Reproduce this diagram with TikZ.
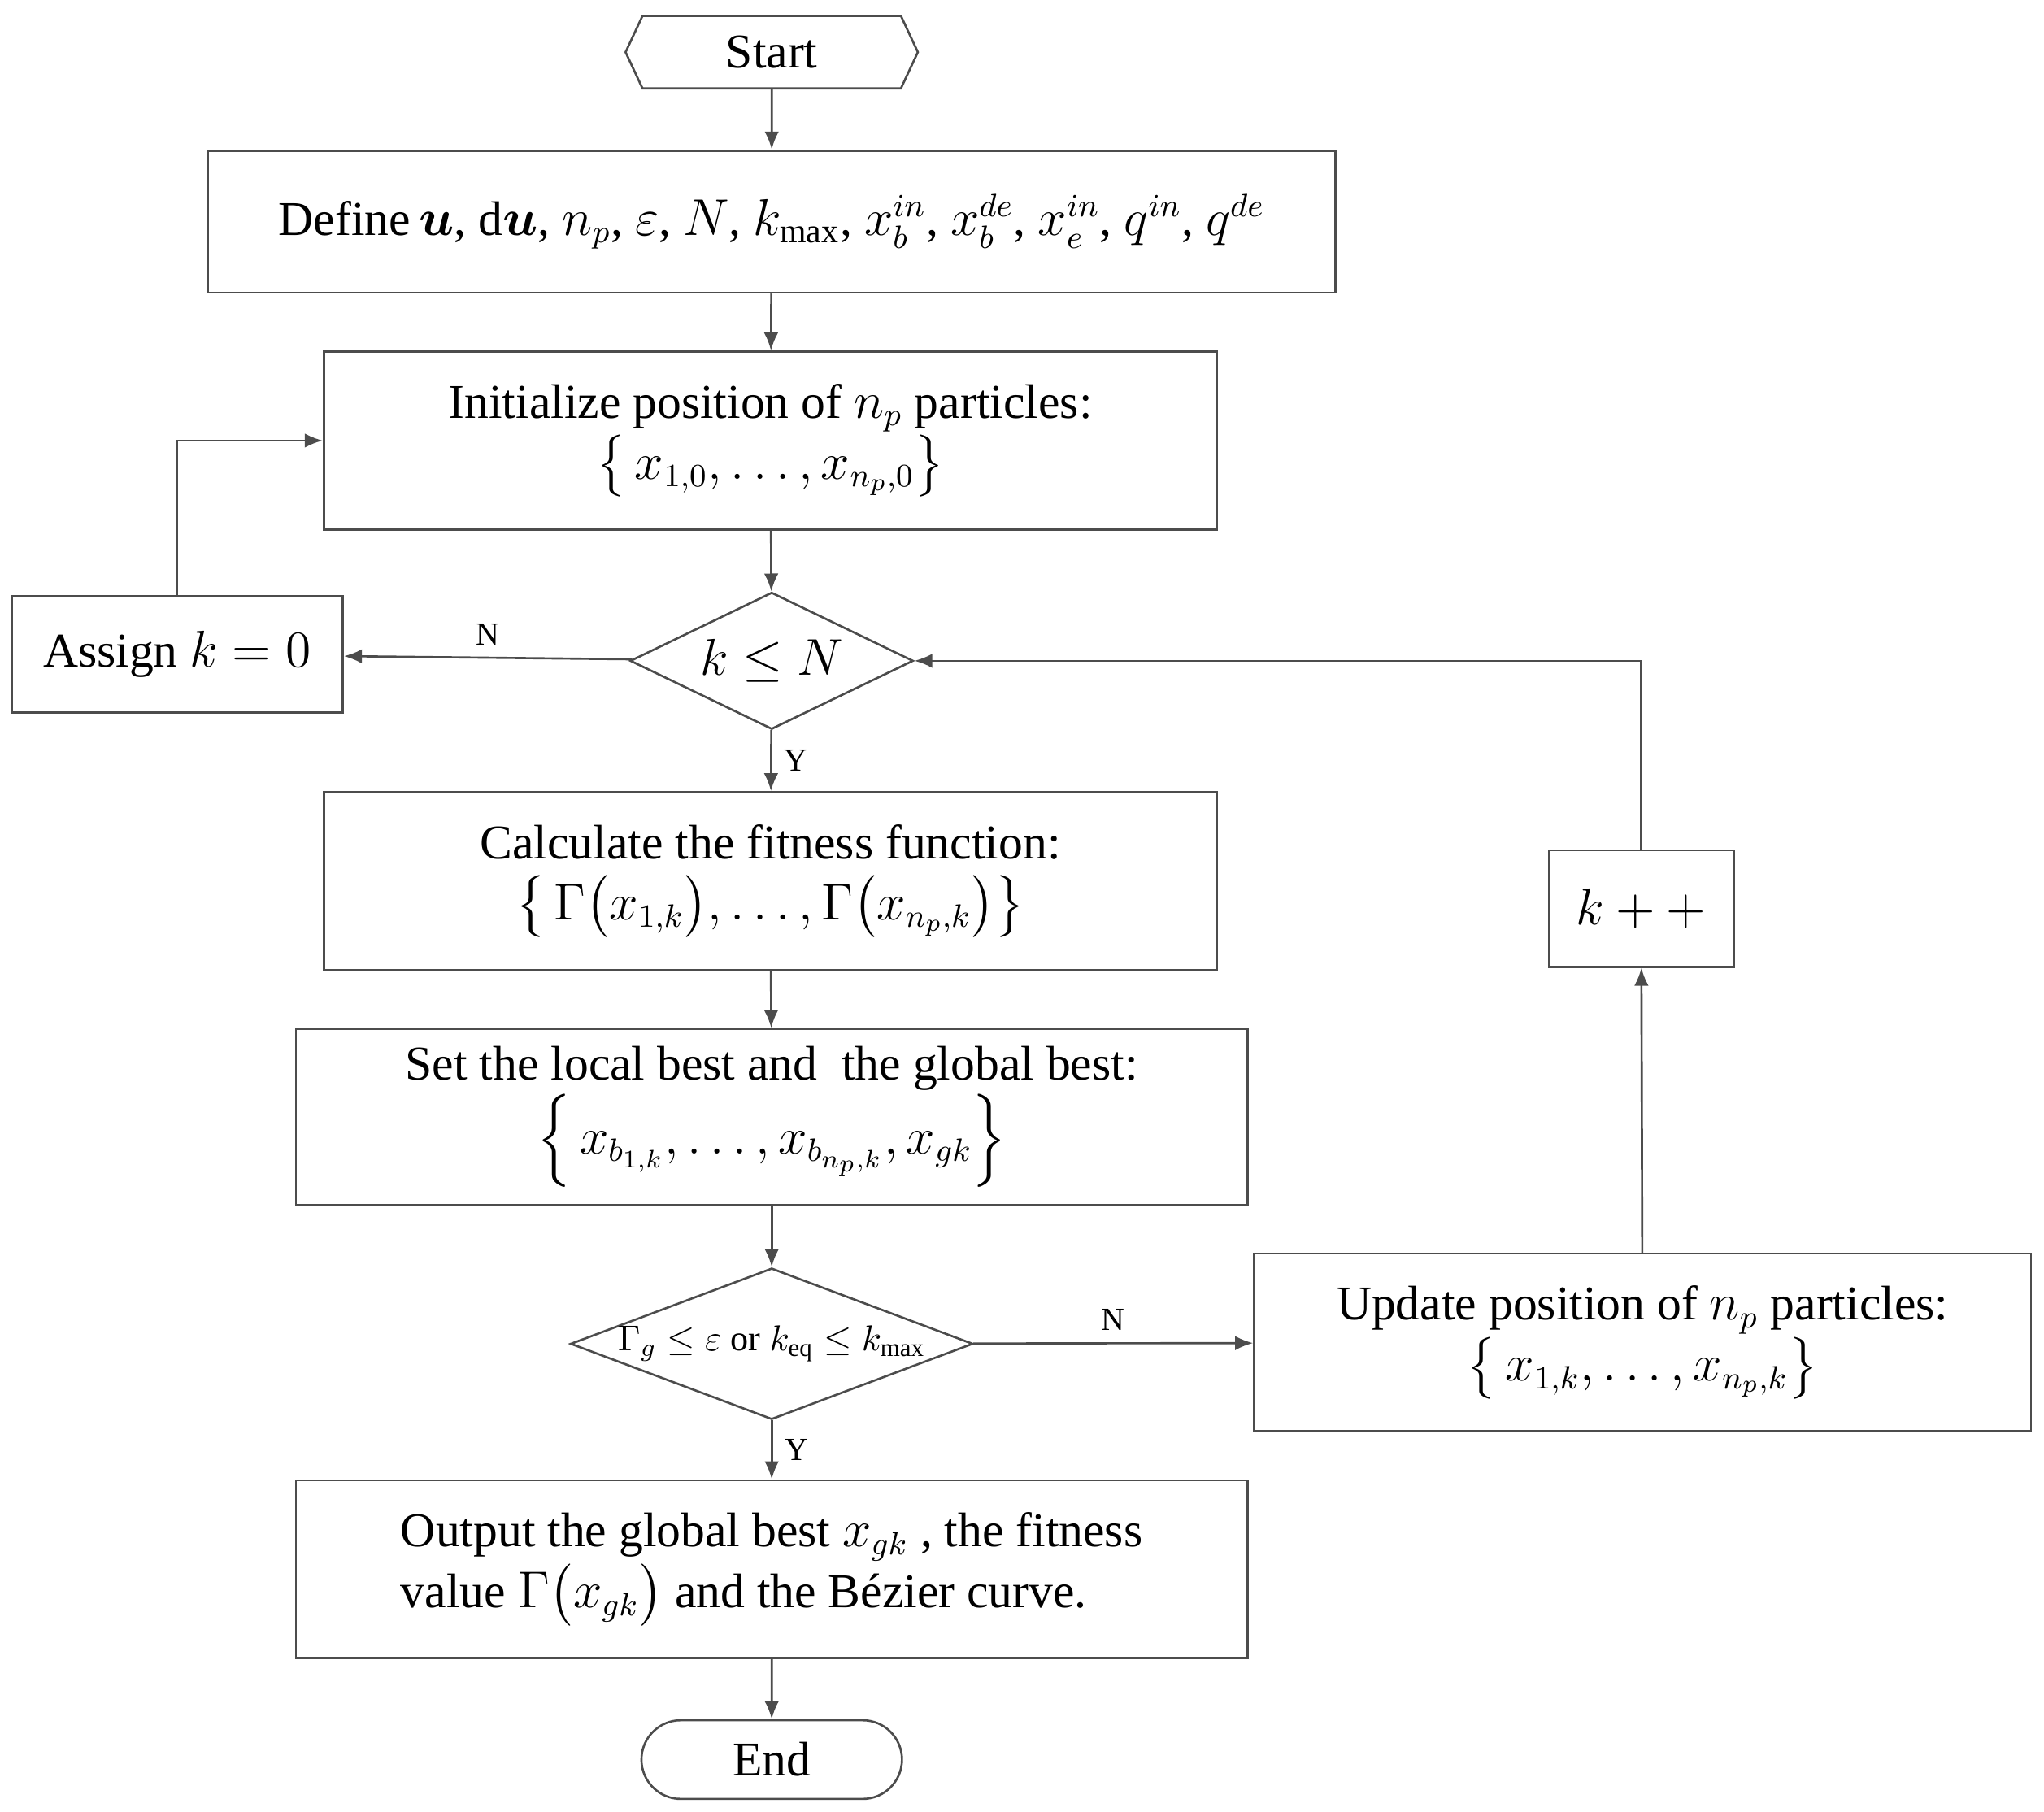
\documentclass[tikz,border=0pt]{standalone}
\usepackage{fontspec}
\usepackage{amsmath}
\setmainfont{Liberation Serif}
\usetikzlibrary{shapes.geometric,shapes.symbols,shapes.misc,arrows.meta}
\tikzset{
  flow/.style={draw=black!70, line width=0.6pt, fill=white, align=center, inner sep=2pt,
    font=\fontsize{13.5}{17}\selectfont},
  box/.style={flow, rectangle},
  choice/.style={flow, diamond, inner sep=0pt},
  link/.style={draw=black!70, line width=0.6pt, -{Latex[length=5pt,width=4pt]}},
  answer/.style={font=\fontsize{9}{10}\selectfont}
}
\begin{document}
\begin{tikzpicture}[x=0.01276cm, y=-0.01276cm]
\useasboundingbox (0,0) rectangle (1568,1390);
%nodes
\node[flow, signal, signal to=east and west, signal pointer angle=130,
      minimum width=2.86cm, minimum height=0.71cm] (start) at (592,40) {Start};
\node[box, minimum width=11.03cm, minimum height=1.39cm] (define) at (592,170)
  {Define$\,\boldsymbol{u}$, d$\boldsymbol{u}$, $n_p$, $\varepsilon$, $N$, $k_{\max}$, $x_b^{in}$, $x_b^{de}$, $x_e^{in}$, $q^{in}$, $q^{de}$};
\node[box, minimum width=8.74cm, minimum height=1.74cm] (init) at (591,338)
  {Initialize position of $n_p$ particles:\\ $\left\{\,x_{1,0},\ldots,x_{n_p,0}\right\}$};
\node[choice, minimum width=2.77cm, minimum height=1.34cm, aspect=2.07] (test) at (592,507) {$k\le N$};
\node[box, minimum width=3.24cm, minimum height=1.14cm] (assign) at (136,502) {Assign $k=0$};
\node[box, minimum width=8.74cm, minimum height=1.74cm] (calc) at (591,676)
  {Calculate the fitness function:\\ $\left\{\,\Gamma\bigl(x_{1,k}\bigr),\ldots,\Gamma\bigl(x_{n_p,k}\bigr)\right\}$};
\node[box, minimum width=9.31cm, minimum height=1.72cm] (best) at (592,857)
  {Set the local best and\ \ the global best:\\ $\left\{\,x_{b_{1,k}},\ldots,x_{b_{n_p,k}},x_{gk}\right\}$};
\node[choice, minimum width=3.80cm, minimum height=1.43cm, aspect=2.66,
      font=\fontsize{10}{12}\selectfont] (stop) at (592,1031)
  {$\Gamma_g\le\varepsilon$ or $k_{\mathrm{eq}}\le k_{\max}$};
\node[box, minimum width=7.60cm, minimum height=1.74cm] (update) at (1260,1030)
  {Update position of $n_p$ particles:\\ $\left\{\,x_{1,k},\ldots,x_{n_p,k}\right\}$};
\node[box, minimum width=1.81cm, minimum height=1.14cm] (incr) at (1259,697) {$k++$};
\node[box, minimum width=9.31cm, minimum height=1.74cm, align=left] (output) at (592,1204)
  {Output the global best $x_{gk}$ , the fitness\\ value $\Gamma\bigl(x_{gk}\bigr)$ and the Bézier curve.};
\node[flow, rounded rectangle, minimum width=2.69cm, minimum height=0.77cm] (end) at (592,1350) {End};
%connectors
\draw[link] (start) -- (define);
\draw[link] (define) -- (init);
\draw[link] (init) -- (test);
\draw[link] (test) -- node[answer, above] {N} (assign);
\draw[link] (assign.north) |- (init.west);
\draw[link] (test) -- node[answer, right, pos=0.5] {Y} (calc);
\draw[link] (calc) -- (best);
\draw[link] (best) -- (stop);
\draw[link] (stop) -- node[answer, above] {N} (update);
\draw[link] (stop) -- node[answer, right] {Y} (output);
\draw[link] (update) -- (incr);
\draw[link] (incr.north) |- (test.east);
\draw[link] (output) -- (end);
\end{tikzpicture}
\end{document}
